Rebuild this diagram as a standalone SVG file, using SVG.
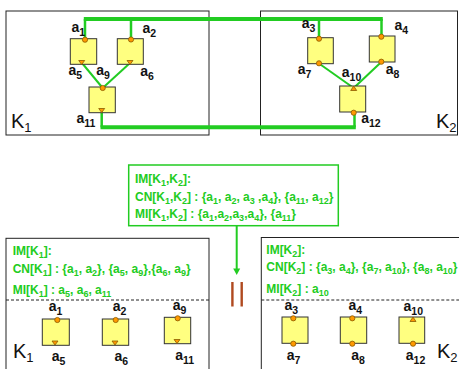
<svg xmlns="http://www.w3.org/2000/svg" width="459" height="369" viewBox="0 0 459 369">
<style>
.frame{fill:none;stroke:#222;stroke-width:1}
.blk{fill:#ffff80;stroke:#333;stroke-width:1}
.port{fill:#ff9900;stroke:#8a5a00;stroke-width:0.8}
.lbl{font-family:"Liberation Sans",Arial,sans-serif;font-weight:bold;font-size:14px;fill:#111}
.lbl .s{font-size:10.5px}
.K{font-family:"Liberation Sans",Arial,sans-serif;font-size:20px;fill:#111}
.K .s{font-size:13px}
.gt{font-family:"Liberation Sans",Arial,sans-serif;font-weight:bold;font-size:12px;fill:#22cc22}
.gt .s{font-size:9px}
.thick{stroke:#22cc22;stroke-width:4;fill:none}
.vert{stroke:#22cc22;stroke-width:2.5;fill:none}
.thin{stroke:#22cc22;stroke-width:2;fill:none}
.dash{stroke:#222;stroke-width:1;stroke-dasharray:3,2}
.bar{fill:#b04a20}
</style>

<!-- frames -->
<g id="K1-top"><rect class="frame" x="6" y="11" width="203" height="124"/>
<text class="K" x="11" y="128">K<tspan class="s" dy="4">1</tspan></text></g>
<g id="K2-top"><rect class="frame" x="260.5" y="11" width="197" height="124"/>
<text class="K" x="436" y="128">K<tspan class="s" dy="4">2</tspan></text></g>

<!-- connectors -->
<g id="connectors">
<line class="thick" x1="83.8" y1="19" x2="382.8" y2="19"/>
<line class="vert" x1="85" y1="19" x2="85" y2="39"/>
<line class="vert" x1="131" y1="19" x2="131" y2="39"/>
<line class="vert" x1="319" y1="19" x2="319" y2="38"/>
<line class="vert" x1="381.5" y1="19" x2="381.5" y2="36"/>
<line class="thick" x1="100.5" y1="127.3" x2="355.8" y2="127.3"/>
<line class="vert" x1="101.7" y1="110" x2="101.7" y2="127.3"/>
<line class="vert" x1="354.5" y1="113" x2="354.5" y2="127.3"/>
<line class="thin" x1="82" y1="63" x2="102.7" y2="88"/>
<line class="thin" x1="130" y1="63" x2="102.7" y2="88"/>
<line class="thin" x1="319" y1="63.5" x2="353.7" y2="88"/>
<line class="thin" x1="381.3" y1="62" x2="353.7" y2="88"/>
<line class="thin" x1="236.7" y1="226" x2="236.7" y2="270"/>
<polygon points="233.2,268.5 240.2,268.5 236.7,275" fill="#22cc22"/>
</g>

<!-- top-left blocks -->
<g id="tl-b1"><rect class="blk" x="70.3" y="38.7" width="26.4" height="25.6"/>
<circle class="port" cx="85" cy="39.7" r="2.6"/>
<polygon class="port" points="78.7,60.5 84.7,60.5 81.7,64.5"/>
<text class="lbl" x="71.5" y="31.5">a<tspan class="s" dy="4">1</tspan></text>
<text class="lbl" x="68.5" y="75">a<tspan class="s" dy="4">5</tspan></text></g>
<g id="tl-b2"><rect class="blk" x="117.3" y="38.7" width="26" height="25.6"/>
<circle class="port" cx="131" cy="39.5" r="2.6"/>
<polygon class="port" points="127,60.5 133,60.5 130,64.5"/>
<text class="lbl" x="142.5" y="33">a<tspan class="s" dy="4">2</tspan></text>
<text class="lbl" x="140.2" y="76">a<tspan class="s" dy="4">6</tspan></text></g>
<g id="tl-b3"><rect class="blk" x="89" y="87" width="26.3" height="25.7"/>
<circle class="port" cx="102.7" cy="88" r="2.6"/>
<polygon class="port" points="98.7,108.5 104.7,108.5 101.7,112.5"/>
<text class="lbl" x="96.2" y="75">a<tspan class="s" dy="4">9</tspan></text>
<text class="lbl" x="76.5" y="123">a<tspan class="s" dy="4">11</tspan></text></g>

<!-- top-right blocks -->
<g id="tr-b1"><rect class="blk" x="307.7" y="37.7" width="25.6" height="26"/>
<circle class="port" cx="319" cy="38.7" r="2.6"/>
<circle class="port" cx="319" cy="63.3" r="2.6"/>
<text class="lbl" x="301.8" y="28.3">a<tspan class="s" dy="4">3</tspan></text>
<text class="lbl" x="297.8" y="74">a<tspan class="s" dy="4">7</tspan></text></g>
<g id="tr-b2"><rect class="blk" x="369.3" y="36" width="25.7" height="26"/>
<circle class="port" cx="381.3" cy="36.7" r="2.6"/>
<circle class="port" cx="381.3" cy="61.7" r="2.6"/>
<text class="lbl" x="394.5" y="30">a<tspan class="s" dy="4">4</tspan></text>
<text class="lbl" x="385.8" y="74">a<tspan class="s" dy="4">8</tspan></text></g>
<g id="tr-b3"><rect class="blk" x="339.7" y="86" width="26" height="26"/>
<polygon class="port" points="353.7,86 350.7,90.5 356.7,90.5"/>
<circle class="port" cx="353.7" cy="112.7" r="2.6"/>
<text class="lbl" x="341.8" y="77">a<tspan class="s" dy="4">10</tspan></text>
<text class="lbl" x="361.2" y="122.7">a<tspan class="s" dy="4">12</tspan></text></g>

<!-- middle box -->
<g id="IM-K1K2"><rect x="128.7" y="165" width="209.6" height="60.7" fill="#fff" stroke="#22cc22" stroke-width="1.5"/>
<text class="gt" x="135" y="183.3">IM[K<tspan class="s" dy="3">1</tspan><tspan dy="-3">,K</tspan><tspan class="s" dy="3">2</tspan><tspan dy="-3">]:</tspan></text>
<text class="gt" x="135" y="200.7">CN[K<tspan class="s" dy="3">1</tspan><tspan dy="-3">,K</tspan><tspan class="s" dy="3">2</tspan><tspan dy="-3">] : {a</tspan><tspan class="s" dy="3">1</tspan><tspan dy="-3">, a</tspan><tspan class="s" dy="3">2</tspan><tspan dy="-3">, a</tspan><tspan class="s" dy="3">3</tspan><tspan dy="-3"> ,a</tspan><tspan class="s" dy="3">4</tspan><tspan dy="-3">}, {a</tspan><tspan class="s" dy="3">11</tspan><tspan dy="-3">, a</tspan><tspan class="s" dy="3">12</tspan><tspan dy="-3">}</tspan></text>
<text class="gt" x="135" y="218.3">MI[K<tspan class="s" dy="3">1</tspan><tspan dy="-3">,K</tspan><tspan class="s" dy="3">2</tspan><tspan dy="-3">] : {a</tspan><tspan class="s" dy="3">1</tspan><tspan dy="-3">,a</tspan><tspan class="s" dy="3">2</tspan><tspan dy="-3">,a</tspan><tspan class="s" dy="3">3</tspan><tspan dy="-3">,a</tspan><tspan class="s" dy="3">4</tspan><tspan dy="-3">}, {a</tspan><tspan class="s" dy="3">11</tspan><tspan dy="-3">}</tspan></text>
</g>

<!-- parallel bars -->
<g id="par"><rect class="bar" x="231.2" y="282" width="2.4" height="24.5"/><rect class="bar" x="240.5" y="282" width="2.4" height="24.5"/></g>

<!-- bottom-left -->
<g id="K1-bottom"><rect class="frame" x="6" y="238.3" width="203" height="140"/>
<line class="dash" x1="6" y1="300" x2="209" y2="300"/>
<text class="gt" x="12.7" y="255">IM[K<tspan class="s" dy="3">1</tspan><tspan dy="-3">]:</tspan></text>
<text class="gt" x="12.7" y="273.3">CN[K<tspan class="s" dy="3">1</tspan><tspan dy="-3">] : {a</tspan><tspan class="s" dy="3">1</tspan><tspan dy="-3">, a</tspan><tspan class="s" dy="3">2</tspan><tspan dy="-3">}, {a</tspan><tspan class="s" dy="3">5</tspan><tspan dy="-3">, a</tspan><tspan class="s" dy="3">9</tspan><tspan dy="-3">},{a</tspan><tspan class="s" dy="3">6</tspan><tspan dy="-3">, a</tspan><tspan class="s" dy="3">9</tspan><tspan dy="-3">}</tspan></text>
<text class="gt" x="12.7" y="294">MI[K<tspan class="s" dy="3">1</tspan><tspan dy="-3">] : a</tspan><tspan class="s" dy="3">5</tspan><tspan dy="-3">, a</tspan><tspan class="s" dy="3">6</tspan><tspan dy="-3">, a</tspan><tspan class="s" dy="3">11</tspan></text>
<text class="K" x="13" y="358.3">K<tspan class="s" dy="4">1</tspan></text>
</g>
<g id="bl-b1"><rect class="blk" x="42.3" y="319" width="27" height="26.3"/>
<circle class="port" cx="57.3" cy="320" r="2.6"/>
<polygon class="port" points="52,341 58,341 55,345"/>
<text class="lbl" x="48.8" y="311">a<tspan class="s" dy="4">1</tspan></text>
<text class="lbl" x="51.8" y="361">a<tspan class="s" dy="4">5</tspan></text></g>
<g id="bl-b2"><rect class="blk" x="102.3" y="319" width="26.4" height="26.3"/>
<circle class="port" cx="115.7" cy="320" r="2.6"/>
<polygon class="port" points="112,341 118,341 115,345"/>
<text class="lbl" x="112.8" y="311">a<tspan class="s" dy="4">2</tspan></text>
<text class="lbl" x="114.5" y="361">a<tspan class="s" dy="4">6</tspan></text></g>
<g id="bl-b3"><rect class="blk" x="164.3" y="317.3" width="26.4" height="26.4"/>
<circle class="port" cx="177.7" cy="318.3" r="2.6"/>
<polygon class="port" points="174,339.5 180,339.5 177,343.5"/>
<text class="lbl" x="172.8" y="310">a<tspan class="s" dy="4">9</tspan></text>
<text class="lbl" x="175.2" y="360">a<tspan class="s" dy="4">11</tspan></text></g>

<!-- bottom-right -->
<g id="K2-bottom"><rect class="frame" x="261.3" y="237.5" width="200" height="140"/>
<line class="dash" x1="261.3" y1="300" x2="459" y2="300"/>
<text class="gt" x="266.3" y="254">IM[K<tspan class="s" dy="3">2</tspan><tspan dy="-3">]:</tspan></text>
<text class="gt" x="266.3" y="270.7">CN[K<tspan class="s" dy="3">2</tspan><tspan dy="-3">] : {a</tspan><tspan class="s" dy="3">3</tspan><tspan dy="-3">, a</tspan><tspan class="s" dy="3">4</tspan><tspan dy="-3">}, {a</tspan><tspan class="s" dy="3">7</tspan><tspan dy="-3">, a</tspan><tspan class="s" dy="3">10</tspan><tspan dy="-3">}, {a</tspan><tspan class="s" dy="3">8</tspan><tspan dy="-3">, a</tspan><tspan class="s" dy="3">10</tspan><tspan dy="-3">}</tspan></text>
<text class="gt" x="266.3" y="293.3">MI[K<tspan class="s" dy="3">2</tspan><tspan dy="-3">] : a</tspan><tspan class="s" dy="3">10</tspan></text>
<text class="K" x="437" y="358">K<tspan class="s" dy="4">2</tspan></text>
</g>
<g id="br-b1"><rect class="blk" x="282" y="317" width="26" height="26.3"/>
<circle class="port" cx="293.3" cy="318.3" r="2.6"/>
<circle class="port" cx="293.3" cy="343.7" r="2.6"/>
<text class="lbl" x="284.5" y="310">a<tspan class="s" dy="4">3</tspan></text>
<text class="lbl" x="286.8" y="360">a<tspan class="s" dy="4">7</tspan></text></g>
<g id="br-b2"><rect class="blk" x="340.3" y="317" width="26.4" height="26.3"/>
<circle class="port" cx="352.3" cy="318.3" r="2.6"/>
<circle class="port" cx="352.3" cy="343.7" r="2.6"/>
<text class="lbl" x="348.5" y="310">a<tspan class="s" dy="4">4</tspan></text>
<text class="lbl" x="351.2" y="360">a<tspan class="s" dy="4">8</tspan></text></g>
<g id="br-b3"><rect class="blk" x="399" y="317" width="25.7" height="26.3"/>
<polygon class="port" points="413,317 410,321.5 416,321.5"/>
<circle class="port" cx="413" cy="343.7" r="2.6"/>
<text class="lbl" x="403.5" y="310.7">a<tspan class="s" dy="4">10</tspan></text>
<text class="lbl" x="405.8" y="360">a<tspan class="s" dy="4">12</tspan></text></g>
</svg>
